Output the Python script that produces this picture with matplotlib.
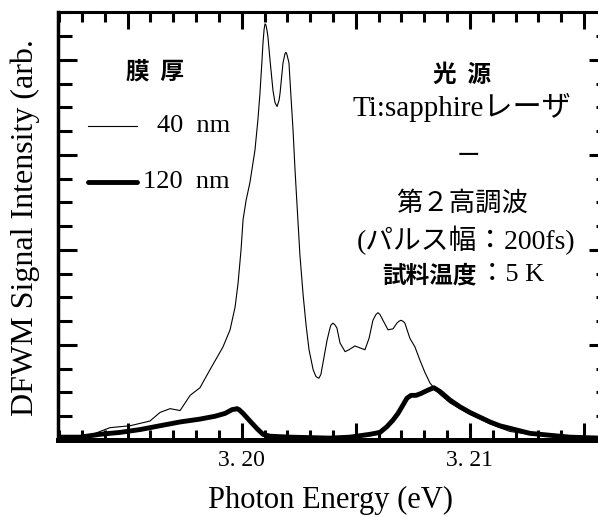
import matplotlib.pyplot as plt
from matplotlib.lines import Line2D
from matplotlib.ticker import MultipleLocator

# 40 nm film (thin line)
e_40 = [3.19195, 3.19204, 3.19336, 3.19423, 3.19511, 3.19598, 3.19642, 3.19686, 3.19730,
        3.19774, 3.19817, 3.19861, 3.19892, 3.19918, 3.19949, 3.19971, 3.19984, 3.19997,
        3.20006, 3.20019, 3.20036, 3.20058, 3.20071, 3.20080, 3.20089, 3.20093, 3.20098,
        3.20102, 3.20106, 3.20111, 3.20115, 3.20124, 3.20137, 3.20146, 3.20155, 3.20164,
        3.20168, 3.20181, 3.20190, 3.20194, 3.20198, 3.20207, 3.20216, 3.20225, 3.20233,
        3.20242, 3.20255, 3.20269, 3.20282, 3.20295, 3.20313, 3.20325, 3.20330, 3.20338,
        3.20347, 3.20356, 3.20374, 3.20387, 3.20391, 3.20400, 3.20409, 3.20417, 3.20431,
        3.20453, 3.20470, 3.20496, 3.20518, 3.20540, 3.20558, 3.20575, 3.20588, 3.20597,
        3.20606, 3.20619, 3.20641, 3.20663, 3.20680, 3.20689, 3.20698, 3.20707, 3.20715,
        3.20737, 3.20759, 3.20781, 3.20803, 3.20825, 3.20842, 3.20869, 3.20913, 3.20956,
        3.21000, 3.21044, 3.21088, 3.21131, 3.21175, 3.21263, 3.21350, 3.21570]
i_40 = [0.02, 0.02, 0.05, 0.13, 0.15, 0.20, 0.29, 0.33, 0.31,
        0.47, 0.55, 0.74, 0.87, 0.98, 1.16, 1.40, 1.65, 2.00,
        2.32, 2.52, 2.71, 3.05, 3.37, 3.65, 4.00, 4.17, 4.32,
        4.38, 4.37, 4.31, 4.24, 4.00, 3.68, 3.55, 3.51, 3.58,
        3.65, 3.97, 4.07, 4.08, 4.06, 3.97, 3.61, 3.26, 2.87,
        2.49, 1.95, 1.53, 1.21, 0.95, 0.74, 0.67, 0.66, 0.65,
        0.69, 0.81, 1.05, 1.18, 1.21, 1.23, 1.21, 1.18, 1.02,
        0.93, 0.95, 0.99, 0.97, 0.95, 1.07, 1.26, 1.32, 1.34,
        1.32, 1.26, 1.16, 1.17, 1.23, 1.25, 1.26, 1.25, 1.23,
        1.07, 0.98, 0.84, 0.71, 0.60, 0.55, 0.48, 0.39, 0.33,
        0.27, 0.22, 0.17, 0.13, 0.09, 0.06, 0.04, 0.02]

# 120 nm film (thick line)
e_120 = [3.19195, 3.19292, 3.19379, 3.19467, 3.19555, 3.19642, 3.19730, 3.19817, 3.19883,
         3.19927, 3.19958, 3.19971, 3.19979, 3.19988, 3.20006, 3.20036, 3.20067, 3.20093,
         3.20124, 3.20212, 3.20387, 3.20474, 3.20562, 3.20606, 3.20636, 3.20663, 3.20685,
         3.20707, 3.20724, 3.20742, 3.20764, 3.20786, 3.20803, 3.20821, 3.20842, 3.20869,
         3.20913, 3.20956, 3.21000, 3.21044, 3.21088, 3.21131, 3.21197, 3.21263, 3.21350,
         3.21438, 3.21570]
i_120 = [0.03, 0.03, 0.06, 0.08, 0.11, 0.15, 0.19, 0.22, 0.25,
         0.28, 0.32, 0.325, 0.33, 0.32, 0.28, 0.20, 0.12, 0.06,
         0.04, 0.03, 0.02, 0.03, 0.06, 0.08, 0.14, 0.21, 0.28,
         0.37, 0.44, 0.47, 0.47, 0.49, 0.51, 0.53, 0.55, 0.51,
         0.42, 0.35, 0.29, 0.24, 0.19, 0.15, 0.11, 0.07, 0.05,
         0.03, 0.02]

x_ticks = [3.195, 3.200, 3.205, 3.210, 3.215]
x_labels = ['', '3. 20', '', '3. 21', '']

W, H = 598, 517


def px(x, y):
    return x / W, 1 - y / H


serif = 'Liberation Serif'
cjk = 'Noto Sans CJK JP'
mix = ['Liberation Serif', 'Noto Sans CJK JP']

fig = plt.figure(figsize=(W / 100, H / 100), dpi=100)
ax = fig.add_axes([58 / W, 77 / H, 542 / W, 428 / H])

ax.plot(e_120, i_120, color='black', lw=3.5, solid_joinstyle='round')
ax.plot(e_40, i_40, color='black', lw=0.8)

ax.set_xlim(3.19195, 3.21570)
ax.set_ylim(0, 4.505)

ax.set_xticks(x_ticks)
ax.set_xticklabels(x_labels)
ax.xaxis.set_minor_locator(MultipleLocator(0.001))
ax.yaxis.set_major_locator(MultipleLocator(1))
ax.yaxis.set_minor_locator(MultipleLocator(0.25))
ax.set_yticklabels([])

ax.tick_params(axis='x', which='both', direction='in', top=True, bottom=True,
               width=2.2, labelsize=17, labelfontfamily=serif, pad=7)
ax.tick_params(axis='x', which='major', length=12)
ax.tick_params(axis='x', which='minor', length=7)
ax.tick_params(axis='y', which='both', direction='in', left=True, right=False, width=2.2)
ax.tick_params(axis='y', which='major', length=14)
ax.tick_params(axis='y', which='minor', length=10)

ax2 = ax.twinx()
ax2.set_ylim(ax.get_ylim())
ax2.yaxis.set_major_locator(MultipleLocator(1))
ax2.yaxis.set_minor_locator(MultipleLocator(0.25))
ax2.tick_params(axis='y', which='both', direction='in', width=2.2, labelright=False)
ax2.tick_params(axis='y', which='major', length=8)
ax2.tick_params(axis='y', which='minor', length=3)
for s in ax2.spines.values():
    s.set_visible(False)

ax.spines['left'].set_linewidth(2.5)
ax.spines['top'].set_linewidth(2.2)
ax.spines['bottom'].set_linewidth(3.6)
ax.spines['right'].set_linewidth(2.2)

# axis labels
fig.text(*px(330, 500), 'Photon Energy (eV)', family=serif, size=22,
         ha='center', va='center')
fig.text(*px(25, 228), 'DFWM Signal Intensity (arb.', family=serif, size=23,
         rotation=90, ha='center', va='center')

# legend block
fig.text(*px(155, 72), '膜  厚', family=cjk, weight='bold', size=17, ha='center', va='center')
fig.add_artist(Line2D([88 / W, 137 / W], [1 - 126 / H] * 2, transform=fig.transFigure,
                      color='black', lw=0.8))
fig.add_artist(Line2D([88 / W, 137 / W], [1 - 182 / H] * 2, transform=fig.transFigure,
                      color='black', lw=3.5, solid_capstyle='round'))
fig.text(*px(230, 126), '40  nm', family=serif, size=19, ha='right', va='center')
fig.text(*px(230, 182), '120  nm', family=serif, size=19, ha='right', va='center')

# conditions block
fig.text(*px(462, 75), '光  源', family=cjk, weight='bold', size=17, ha='center', va='center')
fig.text(*px(462, 107), 'Ti:sapphireレーザ', family=mix, size=21, ha='center', va='center')
fig.text(*px(468, 156), 'ー', family=cjk, size=17, ha='center', va='center')
fig.text(*px(462, 203), '第２高調波', family=cjk, size=19, ha='center', va='center')
fig.text(*px(466, 240), '(パルス幅：200fs)', family=mix, size=20, ha='center', va='center')
fig.text(*px(477, 275), '試料温度', family=cjk, weight='bold', size=17, ha='right', va='center')
fig.text(*px(479, 275), '：5 K', family=mix, size=19, ha='left', va='center')

fig.savefig('out.png', dpi=100)
